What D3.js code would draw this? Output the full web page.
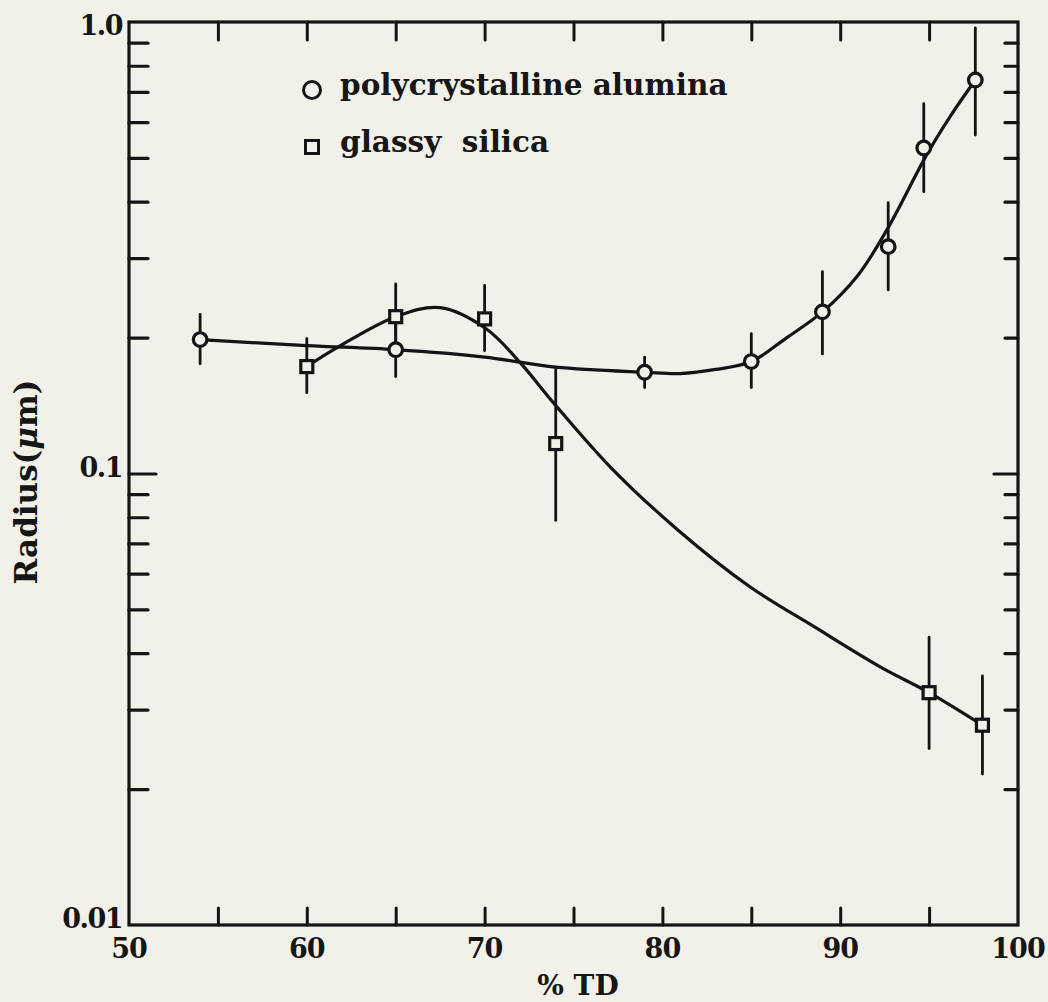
<!DOCTYPE html>
<html>
<head>
<meta charset="utf-8">
<script src="https://cdn.jsdelivr.net/npm/d3@7"></script>
<style>
  html, body { margin: 0; padding: 0; background: #f2f1e9; }
  svg { display: block; }
  text { font-family: 'DejaVu Serif', serif; font-weight: bold; fill: #161616; }
</style>
</head>
<body>
<div id="chart"></div>
<script>
// measured points, polycrystalline alumina (circles)
const aluminaTD = [54, 65, 79, 85, 89, 92.7, 94.7, 97.6]
const aluminaR = [0.198, 0.188, 0.1676, 0.177, 0.228, 0.318, 0.526, 0.744]
const aluminaLo = [0.175, 0.164, 0.155, 0.155, 0.184, 0.255, 0.421, 0.562]
const aluminaHi = [0.225, 0.214, 0.181, 0.204, 0.28, 0.398, 0.659, 0.97]

// measured points, glassy silica (squares)
const silicaTD = [60, 65, 70, 74, 95, 98]
const silicaR = [0.1725, 0.2225, 0.22, 0.1165, 0.0327, 0.0277]
const silicaLo = [0.151, 0.19, 0.187, 0.0787, 0.0246, 0.0216]
const silicaHi = [0.199, 0.263, 0.261, 0.171, 0.0434, 0.0356]

// hand-drawn fit curves
const aluminaFitTD = [54, 60, 65, 70, 74, 79, 81, 83, 85, 87, 89, 91, 92.6, 94.9, 96.2, 97.6]
const aluminaFitR = [0.198, 0.192, 0.188, 0.181, 0.172, 0.1676, 0.1665, 0.17, 0.177, 0.2, 0.228, 0.275, 0.345, 0.511, 0.619, 0.744]
const silicaFitTD = [60, 61.7, 65, 67.5, 70.1, 72, 73.9, 77.1, 80.9, 84.9, 88.6, 92.3, 95, 98]
const silicaFitR = [0.1725, 0.19, 0.2225, 0.233, 0.209, 0.176, 0.143, 0.1031, 0.0748, 0.0562, 0.0456, 0.0372, 0.0327, 0.0277]

// axes
const xMinorTicks = [55, 60, 65, 70, 75, 80, 85, 90, 95]
const xLabels = [50, 60, 70, 80, 90, 100]
const yMinorTicks = [0.02, 0.03, 0.04, 0.05, 0.06, 0.07, 0.08, 0.09, 0.2, 0.3, 0.4, 0.5, 0.6, 0.7, 0.8, 0.9]
const yMajorTicks = [0.1]
const yLabels = [1.0, 0.1, 0.01]
const yLabelText = ['1.0', '0.1', '0.01']

const legendNames = ['polycrystalline alumina', 'glassy  silica']

const ink = '#141414'
const paper = '#f2f1e9'

const margin = { top: 22, left: 129, right: 30, bottom: 77 }
const width = 1048 - margin.left - margin.right
const height = 1002 - margin.top - margin.bottom

const svg = d3
  .select('#chart')
  .append('svg')
  .attr('width', width + margin.left + margin.right)
  .attr('height', height + margin.top + margin.bottom)
  .style('background', paper)
  .append('g')
  .attr('transform', 'translate(' + margin.left + ',' + margin.top + ')')

const x = d3.scaleLinear().domain([50, 100]).range([0, width])
const y = d3.scaleLog().domain([0.01, 1]).range([height, 0])

function styleAxis(g, w) {
  g.select('.domain').remove()
  g.selectAll('.tick line')
    .attr('stroke', ink)
    .attr('stroke-width', w)
    .attr('stroke-linecap', 'round')
}

// tick marks, all pointing inward
svg.append('g')
  .attr('transform', `translate(0,${height})`)
  .call(d3.axisBottom(x).tickValues(xMinorTicks).tickSize(-17).tickFormat(''))
  .call(g => styleAxis(g, 3))
svg.append('g')
  .call(d3.axisTop(x).tickValues(xMinorTicks).tickSize(-18).tickFormat(''))
  .call(g => styleAxis(g, 3))
svg.append('g')
  .call(d3.axisLeft(y).tickValues(yMinorTicks).tickSize(-19).tickFormat(''))
  .call(g => styleAxis(g, 3.2))
svg.append('g')
  .call(d3.axisLeft(y).tickValues(yMajorTicks).tickSize(-27).tickFormat(''))
  .call(g => styleAxis(g, 3.2))
svg.append('g')
  .attr('transform', `translate(${width},0)`)
  .call(d3.axisRight(y).tickValues(yMinorTicks).tickSize(-13).tickFormat(''))
  .call(g => styleAxis(g, 3.2))
svg.append('g')
  .attr('transform', `translate(${width},0)`)
  .call(d3.axisRight(y).tickValues(yMajorTicks).tickSize(-24).tickFormat(''))
  .call(g => styleAxis(g, 3.2))

// frame
svg.append('rect')
  .attr('width', width)
  .attr('height', height)
  .attr('fill', 'none')
  .attr('stroke', ink)
  .attr('stroke-width', 3.2)

// tick labels
svg.selectAll('.xlab')
  .data(xLabels)
  .enter()
  .append('text')
  .attr('class', 'xlab')
  .attr('x', d => x(d))
  .attr('y', height + 33)
  .attr('text-anchor', 'middle')
  .attr('font-size', 27)
  .attr('letter-spacing', -1)
  .text(d => d)

svg.selectAll('.ylab')
  .data(yLabels)
  .enter()
  .append('text')
  .attr('class', 'ylab')
  .attr('x', -7)
  .attr('y', (d, i) => y(d) + (i === 0 ? 13 : 3))
  .attr('text-anchor', 'end')
  .attr('font-size', 27)
  .attr('letter-spacing', -1.5)
  .text((d, i) => yLabelText[i])

// axis titles
svg.append('text')
  .attr('x', 449)
  .attr('y', height + 70)
  .attr('text-anchor', 'middle')
  .attr('font-size', 28)
  .style('white-space', 'pre')
  .text('% TD')

const yTitle = svg.append('text')
  .attr('transform', `translate(${37 - margin.left},${460}) rotate(-90)`)
  .attr('text-anchor', 'middle')
  .attr('font-size', 31)
yTitle.append('tspan').text('Radius(')
yTitle.append('tspan').attr('font-style', 'italic').text('μ')
yTitle.append('tspan').text('m)')

// fitted curves
const line = d3.line()
  .x(d => x(d[0]))
  .y(d => y(d[1]))
  .curve(d3.curveCatmullRom.alpha(0.5))

svg.append('path')
  .datum(d3.zip(aluminaFitTD, aluminaFitR))
  .attr('d', line)
  .attr('fill', 'none')
  .attr('stroke', ink)
  .attr('stroke-width', 3.2)

svg.append('path')
  .datum(d3.zip(silicaFitTD, silicaFitR))
  .attr('d', line)
  .attr('fill', 'none')
  .attr('stroke', ink)
  .attr('stroke-width', 3.2)

// error bars
const alumina = d3.zip(aluminaTD, aluminaR, aluminaLo, aluminaHi)
const silica = d3.zip(silicaTD, silicaR, silicaLo, silicaHi)

svg.selectAll('.err')
  .data(alumina.concat(silica))
  .enter()
  .append('line')
  .attr('class', 'err')
  .attr('x1', d => x(d[0]))
  .attr('x2', d => x(d[0]))
  .attr('y1', d => y(d[2]))
  .attr('y2', d => y(d[3]))
  .attr('stroke', ink)
  .attr('stroke-width', 2.8)
  .attr('stroke-linecap', 'round')

// markers
svg.selectAll('.circ')
  .data(alumina)
  .enter()
  .append('circle')
  .attr('class', 'circ')
  .attr('cx', d => x(d[0]))
  .attr('cy', d => y(d[1]))
  .attr('r', 6.8)
  .attr('fill', paper)
  .attr('stroke', ink)
  .attr('stroke-width', 3.2)

const sq = 12
svg.selectAll('.sq')
  .data(silica)
  .enter()
  .append('rect')
  .attr('class', 'sq')
  .attr('x', d => x(d[0]) - sq / 2)
  .attr('y', d => y(d[1]) - sq / 2)
  .attr('width', sq)
  .attr('height', sq)
  .attr('fill', paper)
  .attr('stroke', ink)
  .attr('stroke-width', 3.2)

// legend
const legend = svg.append('g').attr('transform', `translate(${312 - margin.left},${90 - margin.top})`)
legend.append('circle')
  .attr('r', 8.5)
  .attr('fill', paper)
  .attr('stroke', ink)
  .attr('stroke-width', 3)
legend.append('rect')
  .attr('x', -6.5)
  .attr('y', 57 - 6.5)
  .attr('width', 13)
  .attr('height', 13)
  .attr('fill', paper)
  .attr('stroke', ink)
  .attr('stroke-width', 3)
legend.selectAll('text')
  .data(legendNames)
  .enter()
  .append('text')
  .attr('x', 28)
  .attr('y', (d, i) => 5 + i * 57)
  .attr('font-size', 29.5)
  .style('white-space', 'pre')
  .text(d => d)
</script>
</body>
</html>
